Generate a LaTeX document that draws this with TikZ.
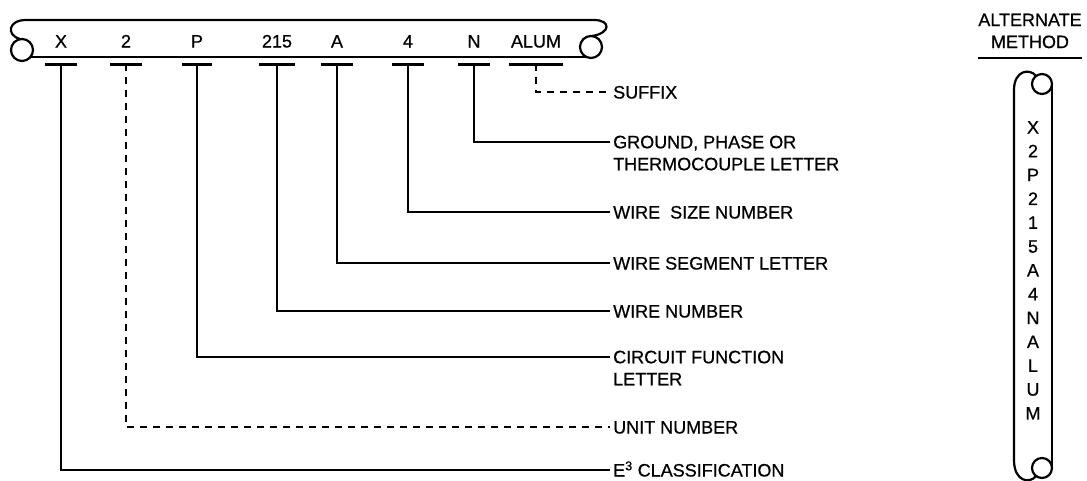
\documentclass[tikz,border=0pt]{standalone}
\usepackage{fontspec}
\setmainfont{Liberation Sans}[FakeBold=0.7]
\tikzset{
  tape/.style={line width=2.2pt},
  bar/.style={line width=3pt},
  lead/.style={line width=2.3pt},
  leaddash/.style={lead,dash pattern=on 7pt off 6pt},
  code/.style={anchor=base,inner sep=0pt},
  lbl/.style={anchor=base west,inner sep=0pt},
  lbltwo/.style={anchor=north west,inner sep=0pt,align=left}
}
\begin{document}
\begin{tikzpicture}[x=1pt,y=-1pt,font=\fontsize{18}{22}\selectfont]
\useasboundingbox (0,0) rectangle (1087,480);
% horizontal tape
\draw[tape] (26,20) -- (594,20) .. controls (611,20) and (611,33) .. (592,36);
\draw[tape] (26,20) .. controls (8,20) and (6,35) .. (20,39);
\draw[tape] (22,50) circle[radius=11pt];
\draw[tape] (591,47) circle[radius=11pt];
\draw[tape] (31,57) -- (586,57);
% codes on the tape
\node[code] (cX) at (61,47.5) {X};
\node[code] (c2) at (126,47.5) {2};
\node[code] (cP) at (197,47.5) {P};
\node[code] (cNum) at (277,47.5) {215};
\node[code] (cA) at (337,47.5) {A};
\node[code] (cSize) at (408,47.5) {4};
\node[code] (cN) at (474,47.5) {N};
\node[code] (cAlum) at (536,47.5) {ALUM};
% bars under the codes
\foreach \x/\w in {61/16,126/16,197/15,277/18,337/16,408/16,474/16,536/27}
  \draw[bar] (\x-\w,64) -- (\x+\w,64);
\coordinate (bX) at (61,64);
\coordinate (b2) at (126,64);
\coordinate (bP) at (197,64);
\coordinate (bNum) at (277,64);
\coordinate (bA) at (337,64);
\coordinate (bSize) at (408,64);
\coordinate (bN) at (474,64);
\coordinate (bAlum) at (536,64);
% leader ends
\coordinate (eAlum) at (610,92);
\coordinate (eN) at (610,142);
\coordinate (eSize) at (610,212);
\coordinate (eA) at (610,263);
\coordinate (eNum) at (610,311);
\coordinate (eP) at (610,357);
\coordinate (e2) at (610,427);
\coordinate (eX) at (610,470);
% labels
\node[lbl] (tAlum) at (613,98.5) {SUFFIX};
\node[lbltwo] (tN) at (613,135.5) {GROUND, PHASE OR\\THERMOCOUPLE LETTER};
\node[lbl] (tSize) at (613,218.5) {WIRE\ \ SIZE NUMBER};
\node[lbl] (tA) at (613,269.5) {WIRE SEGMENT LETTER};
\node[lbl] (tNum) at (613,317.5) {WIRE NUMBER};
\node[lbltwo] (tP) at (613,350.5) {CIRCUIT FUNCTION\\LETTER};
\node[lbl] (t2) at (613,433.5) {UNIT NUMBER};
\node[lbl] (tX) at (613,476.5) {E\textsuperscript{3} CLASSIFICATION};
% leaders
\draw[leaddash] (bAlum) |- (eAlum);
\draw[lead] (bN) |- (eN);
\draw[lead] (bSize) |- (eSize);
\draw[lead] (bA) |- (eA);
\draw[lead] (bNum) |- (eNum);
\draw[lead] (bP) |- (eP);
\draw[leaddash] (b2) |- (e2);
\draw[lead] (bX) |- (eX);
% alternate method
\node[anchor=north,align=center,inner sep=0pt] (alt) at (1030,13.5) {ALTERNATE\\METHOD};
\draw[lead] (978,58) -- (1082,58);
\draw[tape] (1014,460) -- (1014,90) .. controls (1014,70) and (1030,68) .. (1036,76);
\draw[tape] (1042,84) circle[radius=10pt];
\draw[tape] (1052,84) -- (1052,468);
\draw[tape] (1042,468) circle[radius=10pt];
\draw[tape] (1014,460) .. controls (1014,482) and (1030,484) .. (1036,476);
\foreach \c [count=\i from 0] in {X,2,P,2,1,5,A,4,N,A,L,U,M}
  \node[code] (v\i) at (1033,{133.5+23.83*\i}) {\c};
\end{tikzpicture}
\end{document}
